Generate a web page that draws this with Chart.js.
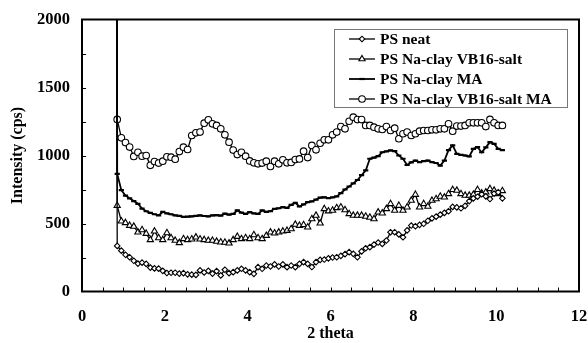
<!DOCTYPE html>
<html>
<head>
<meta charset="utf-8">
<script src="https://cdn.jsdelivr.net/npm/chart.js@4/dist/chart.umd.min.js"></script>
<style>
  html, body { margin: 0; padding: 0; background: #fff; }
  #wrap { width: 588px; height: 343px; }
</style>
</head>
<body>
<div id="wrap"><canvas id="xrd"></canvas></div>
<script>
// 2 theta positions shared by all four scans
const thetas = [
  0.85, 0.95, 1.05, 1.15, 1.25, 1.35, 1.45, 1.55, 1.65, 1.75,
  1.85, 1.95, 2.05, 2.15, 2.25, 2.35, 2.45, 2.55, 2.65, 2.75,
  2.85, 2.95, 3.05, 3.15, 3.25, 3.35, 3.45, 3.55, 3.65, 3.75,
  3.85, 3.95, 4.05, 4.15, 4.25, 4.35, 4.45, 4.55, 4.65, 4.75,
  4.85, 4.95, 5.05, 5.15, 5.25, 5.35, 5.45, 5.55, 5.65, 5.75,
  5.85, 5.95, 6.05, 6.15, 6.25, 6.35, 6.45, 6.55, 6.65, 6.75,
  6.85, 6.95, 7.05, 7.15, 7.25, 7.35, 7.45, 7.55, 7.65, 7.75,
  7.85, 7.95, 8.05, 8.15, 8.25, 8.35, 8.45, 8.55, 8.65, 8.75,
  8.85, 8.95, 9.05, 9.15, 9.25, 9.35, 9.45, 9.55, 9.65, 9.75,
  9.85, 9.95, 10.05, 10.15
];

// direct beam spike at the start of every scan (goes off the top of the plot)
const spikeTheta = 0.83;
const spikeIntensity = 4000;

const psNeat = [
  335, 300, 270, 252, 226, 205, 212, 203, 176, 170,
  168, 152, 136, 138, 138, 132, 135, 126, 124, 122,
  155, 140, 152, 132, 150, 118, 160, 135, 142, 155,
  167, 155, 142, 130, 179, 167, 191, 184, 199, 184,
  199, 179, 191, 179, 203, 216, 203, 180, 216, 233,
  235, 244, 250, 252, 262, 275, 289, 277, 252, 295,
  318, 326, 345, 360, 350, 375, 436, 436, 420, 399,
  450, 485, 480, 490, 498, 520, 538, 550, 565, 578,
  590, 622, 618, 612, 630, 665, 685, 697, 715, 700,
  680, 720, 730, 685
];

const psVB16 = [
  632, 517, 505, 485, 478, 436, 453, 426, 380, 443,
  394, 380, 431, 394, 375, 358, 387, 380, 385, 399,
  385, 380, 375, 375, 368, 363, 361, 355, 380, 404,
  387, 394, 387, 416, 394, 387, 411, 436, 429, 436,
  443, 448, 460, 493, 485, 490, 473, 534, 559, 502,
  608, 591, 596, 615, 620, 600, 571, 559, 559, 559,
  552, 545, 534, 583, 576, 608, 645, 596, 632, 596,
  620, 669, 713, 620, 645, 625, 669, 681, 699, 693,
  718, 748, 743, 718, 706, 706, 713, 748, 723, 730,
  755, 743, 718, 740
];

const psMA = [
  865, 745, 705, 685, 665, 645, 610, 590, 578, 568,
  560, 585, 575, 568, 560, 556, 548, 550, 553, 556,
  560, 555, 552, 560, 562, 558, 572, 565, 571, 596,
  580, 571, 583, 575, 571, 596, 585, 590, 608, 612,
  620, 615, 637, 652, 625, 640, 657, 662, 676, 690,
  693, 686, 692, 699, 723, 750, 772, 795, 820, 855,
  890, 976, 985, 995, 1024, 1030, 1037, 1032, 1000, 976,
  930, 950, 963, 951, 958, 963, 951, 945, 926, 963,
  1040, 1074, 1012, 1005, 1000, 993, 1049, 1061, 1024, 1060,
  1098, 1086, 1049, 1040
];

const psVB16MA = [
  1265, 1130, 1095, 1062, 993, 1024, 995, 1000, 928, 956,
  944, 958, 990, 988, 973, 1029, 1061, 1044, 1147, 1167,
  1172, 1238, 1262, 1233, 1221, 1196, 1152, 1098, 1040, 1007,
  1024, 995, 960, 946, 939, 944, 958, 919, 958, 939,
  968, 946, 949, 970, 975, 1032, 985, 1074, 1042, 1090,
  1115, 1115, 1152, 1172, 1213, 1196, 1252, 1282, 1264, 1264,
  1221, 1221, 1208, 1196, 1191, 1213, 1184, 1201, 1123, 1160,
  1172, 1147, 1160, 1179, 1184, 1184, 1189, 1189, 1196, 1196,
  1233, 1179, 1216, 1216, 1221, 1240, 1240, 1240, 1240, 1213,
  1265, 1240, 1221, 1221
];

const seriesNames = ['PS neat', 'PS Na-clay VB16-salt', 'PS Na-clay MA', 'PS Na-clay VB16-salt MA'];
const xTicks = [0, 2, 4, 6, 8, 10, 12];
const yTicks = [0, 500, 1000, 1500, 2000];

const serif = '"Liberation Serif", "Times New Roman", serif';

function scan(values) {
  const pts = [{ x: spikeTheta, y: spikeIntensity }];
  values.forEach((v, i) => pts.push({ x: thetas[i], y: v }));
  return pts;
}

const styles = [
  { pointStyle: 'rectRot', radius: 2.8, borderWidth: 1.1, lineWidth: 1.3 },
  { pointStyle: 'triangle', radius: 3.6, borderWidth: 1.1, lineWidth: 1.3 },
  { pointStyle: 'line', radius: 2.6, borderWidth: 2.2, lineWidth: 1.8 },
  { pointStyle: 'circle', radius: 3.3, borderWidth: 1.1, lineWidth: 1.3 }
];

const datasets = [psNeat, psVB16, psMA, psVB16MA].map((vals, k) => ({
  label: seriesNames[k],
  data: scan(vals),
  borderColor: '#000',
  backgroundColor: '#fff',
  borderWidth: styles[k].lineWidth,
  pointStyle: styles[k].pointStyle,
  pointRadius: (c) => (c.dataIndex === 0 ? 0 : styles[k].radius),
  pointBorderWidth: styles[k].borderWidth,
  pointBorderColor: '#000',
  pointBackgroundColor: '#fff',
  tension: 0
}));

// frame, inward ticks and the boxed legend
const framePlugin = {
  id: 'frame',
  afterDraw(chart) {
    const { ctx, chartArea: a, scales } = chart;
    const x = scales.x, y = scales.y;
    ctx.save();
    ctx.strokeStyle = '#000';
    ctx.lineWidth = 1;
    ctx.beginPath();
    for (let t = 0.5; t < 12; t += 0.5) {
      const px = Math.round(x.getPixelForValue(t)) + 0.5;
      ctx.moveTo(px, a.bottom);
      ctx.lineTo(px, a.bottom - 4);
    }
    for (let v = 250; v < 2000; v += 250) {
      const py = Math.round(y.getPixelForValue(v)) + 0.5;
      ctx.moveTo(a.left, py);
      ctx.lineTo(a.left + 4, py);
    }
    ctx.stroke();

    ctx.lineWidth = 2;
    ctx.strokeRect(a.left, a.top, a.right - a.left, a.bottom - a.top);

    // legend
    const lx = 334, ly = 29, lw = 233, lh = 78;
    ctx.fillStyle = '#fff';
    ctx.fillRect(lx, ly, lw, lh);
    ctx.lineWidth = 1;
    ctx.strokeStyle = '#777';
    ctx.strokeRect(lx + 0.5, ly + 0.5, lw, lh);
    ctx.font = 'bold 15.5px ' + serif;
    ctx.textBaseline = 'middle';
    chart.data.datasets.forEach((ds, k) => {
      const ry = ly + 10 + k * 20;
      ctx.strokeStyle = '#000';
      ctx.lineWidth = styles[k].lineWidth;
      ctx.beginPath();
      ctx.moveTo(349, ry);
      ctx.lineTo(375, ry);
      ctx.stroke();
      ctx.fillStyle = '#fff';
      ctx.lineWidth = styles[k].borderWidth;
      Chart.helpers.drawPoint(ctx, {
        pointStyle: styles[k].pointStyle,
        radius: styles[k].radius,
        rotation: 0,
        borderWidth: styles[k].borderWidth
      }, 362, ry);
      ctx.fillStyle = '#000';
      ctx.fillText(ds.label, 380, ry + 1);
    });
    ctx.restore();
  }
};

new Chart(document.getElementById('xrd'), {
  type: 'line',
  data: { datasets },
  plugins: [framePlugin],
  options: {
    responsive: true,
    maintainAspectRatio: false,
    animation: false,
    layout: { padding: { top: 19.5, right: 9, left: 0, bottom: 0 } },
    plugins: { legend: { display: false }, tooltip: { enabled: false } },
    scales: {
      x: {
        type: 'linear',
        min: 0,
        max: 12,
        afterBuildTicks: (s) => { s.ticks = xTicks.map((v) => ({ value: v })); },
        afterFit: (s) => { s.height = 51.5; s.paddingLeft = 0; s.paddingRight = 0; },
        grid: { display: false, drawTicks: false },
        border: { display: false },
        ticks: { color: '#000', padding: 15, maxRotation: 0, callback: (v) => String(v), font: { family: serif, size: 16.5, weight: 'bold' } },
        title: { display: true, text: '2 theta', color: '#000', padding: { top: 0, bottom: 0 }, font: { family: serif, size: 16, weight: 'bold' } }
      },
      y: {
        min: 0,
        max: 2000,
        afterBuildTicks: (s) => { s.ticks = yTicks.map((v) => ({ value: v })); },
        afterFit: (s) => { s.width = 82; s.paddingTop = 0; s.paddingBottom = 0; },
        grid: { display: false, drawTicks: false },
        border: { display: false },
        ticks: { color: '#000', padding: 12, callback: (v) => String(v), font: { family: serif, size: 16.5, weight: 'bold' } },
        title: { display: true, text: 'Intensity (cps)', color: '#000', padding: { top: 8, bottom: 0 }, font: { family: serif, size: 16, weight: 'bold' } }
      }
    }
  }
});
</script>
</body>
</html>
